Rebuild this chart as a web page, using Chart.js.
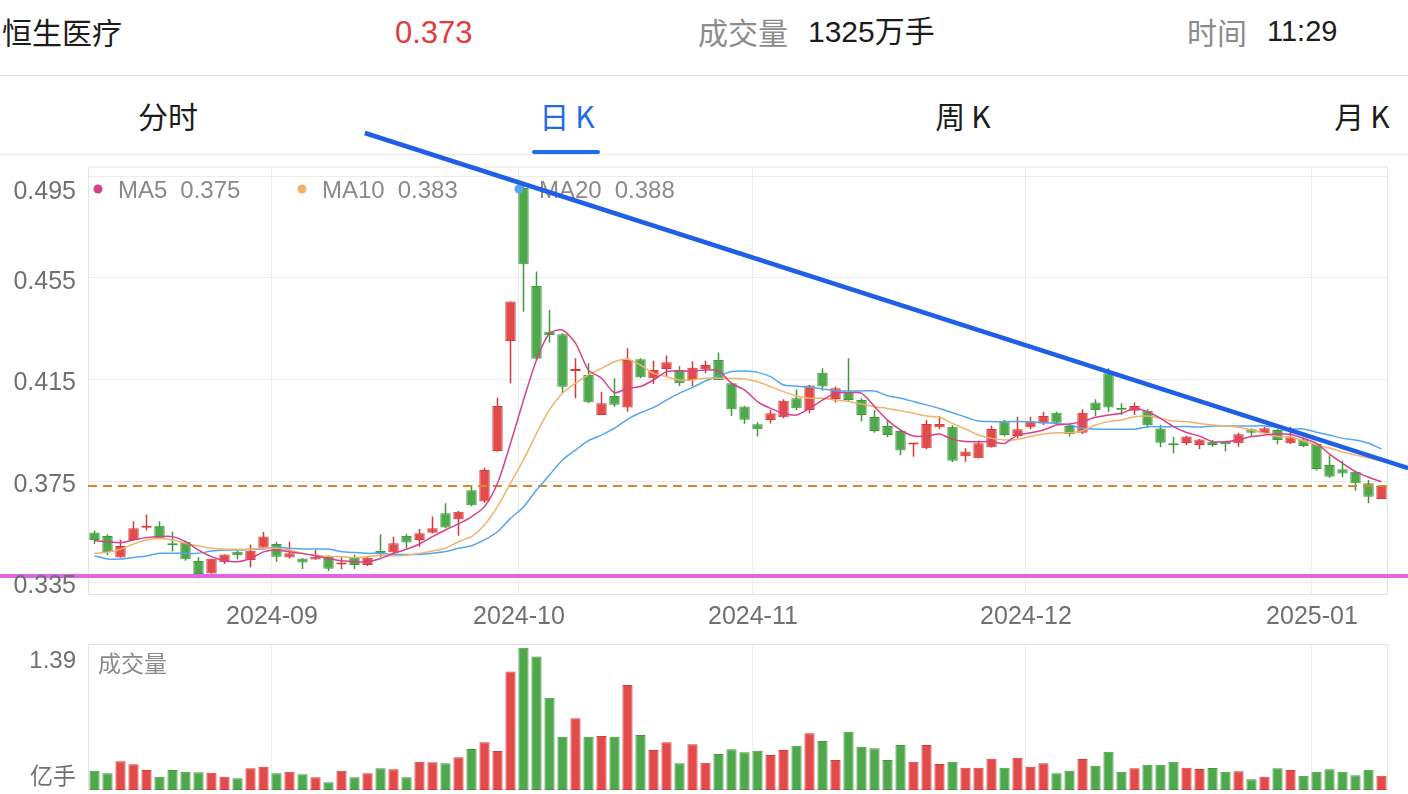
<!DOCTYPE html>
<html lang="zh-CN">
<head>
<meta charset="utf-8">
<title>恒生医疗 日K</title>
<script src="https://cdn.jsdelivr.net/npm/chart.js@4.4.1/dist/chart.umd.min.js"></script>
<style>
  html, body { margin: 0; padding: 0; background: #fff; }
  body { width: 1408px; height: 794px; overflow: hidden; position: relative;
         font-family: "Liberation Sans", "Noto Sans CJK SC", sans-serif; }
  .t { position: absolute; white-space: nowrap; line-height: 1; }
  .sep { position: absolute; left: 0; width: 1408px; height: 1px; background: #e8e8e8; }
  .tab { position: absolute; top: 100px; width: 140px; text-align: center; font-size: 30px;
         line-height: 1; color: #1c1c1c; font-family: "Noto Sans CJK SC", sans-serif; }
  .tab span { margin-right: 6px; }
  canvas { position: absolute; left: 0; pointer-events: none; }
  #price { top: 0; z-index: 2; }
  #vol { top: 600px; z-index: 1; }
</style>
</head>
<body>
<div class="t" style="left:2px;top:16px;font-size:30px;color:#1c1c1c;font-family:'Noto Sans CJK SC'">恒生医疗</div>
<div class="t" id="lastPrice" style="left:395px;top:17px;font-size:31px;color:#e23b3b"></div>
<div class="t" style="left:698px;top:16px;font-size:30px;color:#8c8c8c;font-family:'Noto Sans CJK SC'">成交量</div>
<div class="t" style="left:808px;top:17px;font-size:30px;color:#1c1c1c">1325万手</div>
<div class="t" style="left:1187px;top:16px;font-size:30px;color:#8c8c8c;font-family:'Noto Sans CJK SC'">时间</div>
<div class="t" style="left:1267px;top:17px;font-size:29px;color:#1c1c1c">11:29</div>
<div class="sep" style="top:75px"></div>

<div class="tab" style="left:98px">分时</div>
<div class="tab" style="left:497px;color:#1e6ce8"><span>日</span>K</div>
<div class="tab" style="left:893px"><span>周</span>K</div>
<div class="tab" style="left:1292px"><span>月</span>K</div>
<div style="position:absolute;left:532px;top:150px;width:68px;height:4px;background:#1e6ce8;border-radius:2px"></div>
<div class="sep" style="top:154px"></div>

<canvas id="price" width="1408" height="640"></canvas>
<canvas id="vol" width="1408" height="200"></canvas>

<script>
// daily candles, oldest first (last ~100 sessions)
const opens  = [0.3547,0.3533,0.3449,0.3518,0.3566,0.3574,0.3499,0.3511,0.3435,0.3386,
                0.3430,0.3471,0.3439,0.3487,0.3502,0.3449,0.3445,0.3441,0.3451,0.3421,
                0.3448,0.3419,0.3474,0.3469,0.3533,0.3518,0.3546,0.3623,0.3599,0.3714,
                0.3669,0.3868,0.4302,0.4904,0.4518,0.4338,0.4328,0.4183,0.4168,0.4010,
                0.4085,0.4040,0.4230,0.4155,0.4191,0.4187,0.4148,0.4190,0.4227,0.4135,
                0.4044,0.3974,0.3990,0.4001,0.4076,0.4030,0.4177,0.4073,0.4102,0.4069,
                0.4002,0.3967,0.3947,0.3894,0.3879,0.3962,0.3964,0.3848,0.3840,0.3883,
                0.3984,0.3927,0.3962,0.3977,0.4019,0.3967,0.3940,0.4059,0.4175,0.4033,
                0.4027,0.4027,0.3957,0.3893,0.3900,0.3892,0.3905,0.3905,0.3899,0.3954,
                0.3938,0.3951,0.3899,0.3914,0.3896,0.3813,0.3796,0.3787,0.3741,0.3679];
const highs  = [0.3555,0.3540,0.3520,0.3592,0.3618,0.3592,0.3550,0.3515,0.3450,0.3444,
                0.3461,0.3474,0.3500,0.3550,0.3511,0.3511,0.3446,0.3478,0.3458,0.3455,
                0.3461,0.3455,0.3540,0.3530,0.3540,0.3561,0.3610,0.3662,0.3632,0.3734,
                0.3802,0.4078,0.4457,0.4915,0.4575,0.4424,0.4332,0.4234,0.4214,0.4102,
                0.4155,0.4273,0.4234,0.4224,0.4244,0.4203,0.4222,0.4224,0.4256,0.4138,
                0.4046,0.3982,0.4030,0.4072,0.4111,0.4128,0.4194,0.4122,0.4234,0.4076,
                0.4030,0.3990,0.3951,0.3898,0.3990,0.4006,0.3970,0.3879,0.3910,0.3968,
                0.3990,0.4003,0.4003,0.4023,0.4023,0.3971,0.4033,0.4072,0.4194,0.4056,
                0.4059,0.4033,0.3971,0.3923,0.3928,0.3916,0.3912,0.3908,0.3940,0.3958,
                0.3964,0.3955,0.3964,0.3922,0.3900,0.3852,0.3830,0.3790,0.3754,0.3734];
const lows   = [0.3502,0.3458,0.3449,0.3518,0.3555,0.3522,0.3472,0.3436,0.3367,0.3386,
                0.3423,0.3441,0.3410,0.3487,0.3432,0.3445,0.3403,0.3441,0.3395,0.3402,
                0.3402,0.3415,0.3451,0.3465,0.3485,0.3491,0.3544,0.3564,0.3534,0.3651,
                0.3664,0.3865,0.4135,0.4417,0.4228,0.4295,0.4096,0.4076,0.4056,0.4010,
                0.4043,0.4023,0.4155,0.4132,0.4163,0.4124,0.4124,0.4175,0.4148,0.4006,
                0.3976,0.3925,0.3977,0.3997,0.4030,0.4017,0.4106,0.4059,0.4063,0.3984,
                0.3940,0.3922,0.3852,0.3846,0.3875,0.3954,0.3825,0.3826,0.3840,0.3882,
                0.3925,0.3918,0.3954,0.3971,0.3975,0.3925,0.3935,0.4006,0.4023,0.4010,
                0.4010,0.3960,0.3883,0.3859,0.3892,0.3875,0.3885,0.3866,0.3885,0.3927,
                0.3935,0.3895,0.3896,0.3883,0.3791,0.3763,0.3765,0.3712,0.3662,0.3679];
const closes = [0.3518,0.3469,0.3494,0.3564,0.3572,0.3524,0.3497,0.3442,0.3384,0.3444,
                0.3461,0.3458,0.3475,0.3531,0.3452,0.3465,0.3429,0.3452,0.3404,0.3425,
                0.3419,0.3448,0.3462,0.3505,0.3508,0.3544,0.3564,0.3567,0.3629,0.3655,
                0.3793,0.4046,0.4457,0.4604,0.4232,0.4325,0.4121,0.4187,0.4060,0.4056,
                0.4050,0.4227,0.4159,0.4187,0.4218,0.4135,0.4196,0.4207,0.4148,0.4033,
                0.3991,0.3954,0.4017,0.4066,0.4037,0.4126,0.4122,0.4115,0.4069,0.4010,
                0.3947,0.3931,0.3870,0.3896,0.3975,0.3975,0.3830,0.3866,0.3899,0.3955,
                0.3931,0.3954,0.3984,0.4006,0.3980,0.3935,0.4019,0.4030,0.4040,0.4031,
                0.4046,0.3970,0.3901,0.3891,0.3925,0.3914,0.3892,0.3895,0.3934,0.3940,
                0.3958,0.3912,0.3922,0.3888,0.3797,0.3767,0.3780,0.3741,0.3688,0.3730];

// volume, 亿手
const volumes = [0.184,0.159,0.273,0.245,0.190,0.127,0.190,0.174,0.169,0.165,
                 0.127,0.111,0.207,0.222,0.159,0.174,0.150,0.121,0.073,0.184,
                 0.121,0.159,0.207,0.197,0.121,0.270,0.264,0.254,0.311,0.390,
                 0.454,0.371,1.127,1.355,1.270,0.879,0.508,0.683,0.508,0.514,
                 0.508,1.000,0.524,0.381,0.454,0.254,0.435,0.260,0.343,0.388,
                 0.359,0.374,0.333,0.381,0.422,0.540,0.467,0.286,0.555,0.412,
                 0.397,0.286,0.429,0.270,0.429,0.248,0.270,0.212,0.212,0.298,
                 0.212,0.308,0.222,0.254,0.159,0.184,0.295,0.231,0.365,0.174,
                 0.207,0.241,0.241,0.270,0.212,0.200,0.210,0.174,0.178,0.102,
                 0.127,0.207,0.190,0.136,0.174,0.197,0.174,0.140,0.193,0.135];

// moving averages as drawn in the app
const ma5  = [0.3515,0.3511,0.3507,0.3518,0.3527,0.3531,0.3531,0.3511,0.3478,0.3452,
              0.3436,0.3432,0.3445,0.3471,0.3478,0.3471,0.3464,0.3456,0.3445,0.3436,
              0.3432,0.3432,0.3445,0.3465,0.3481,0.3502,0.3531,0.3557,0.3581,0.3609,
              0.3649,0.3741,0.3898,0.4069,0.4227,0.4332,0.4345,0.4293,0.4187,0.4155,
              0.4098,0.4115,0.4122,0.4148,0.4181,0.4183,0.4183,0.4187,0.4185,0.4135,
              0.4109,0.4063,0.4036,0.4017,0.4010,0.4036,0.4069,0.4096,0.4098,0.4096,
              0.4043,0.3990,0.3951,0.3927,0.3927,0.3935,0.3914,0.3906,0.3905,0.3905,
              0.3898,0.3931,0.3940,0.3951,0.3971,0.3975,0.3984,0.4001,0.4010,0.4017,
              0.4036,0.4023,0.3997,0.3964,0.3941,0.3927,0.3905,0.3905,0.3912,0.3925,
              0.3931,0.3935,0.3934,0.3918,0.3898,0.3856,0.3820,0.3787,0.3765,0.3747];
const ma10 = [0.3465,0.3469,0.3481,0.3502,0.3518,0.3524,0.3518,0.3505,0.3494,0.3485,
              0.3481,0.3481,0.3481,0.3485,0.3485,0.3478,0.3466,0.3458,0.3454,0.3452,
              0.3449,0.3452,0.3458,0.3456,0.3458,0.3465,0.3474,0.3485,0.3511,0.3531,
              0.3577,0.3649,0.3741,0.3833,0.3938,0.4030,0.4096,0.4135,0.4168,0.4194,
              0.4220,0.4230,0.4207,0.4174,0.4161,0.4148,0.4148,0.4155,0.4155,0.4155,
              0.4152,0.4141,0.4122,0.4102,0.4085,0.4076,0.4076,0.4069,0.4063,0.4053,
              0.4043,0.4036,0.4027,0.4017,0.4006,0.4001,0.3977,0.3955,0.3931,0.3918,
              0.3912,0.3914,0.3925,0.3935,0.3940,0.3940,0.3948,0.3971,0.3984,0.3990,
              0.4003,0.4006,0.3997,0.3986,0.3984,0.3977,0.3971,0.3967,0.3962,0.3951,
              0.3938,0.3925,0.3924,0.3908,0.3892,0.3880,0.3864,0.3852,0.3841,0.3829];
const ma20 = [0.3455,0.3443,0.3443,0.3449,0.3455,0.3465,0.3465,0.3465,0.3465,0.3474,
              0.3478,0.3478,0.3481,0.3482,0.3489,0.3485,0.3482,0.3482,0.3482,0.3472,
              0.3468,0.3465,0.3465,0.3461,0.3461,0.3461,0.3465,0.3472,0.3485,0.3495,
              0.3518,0.3550,0.3603,0.3648,0.3715,0.3774,0.3833,0.3872,0.3909,0.3931,
              0.3958,0.3993,0.4019,0.4040,0.4069,0.4096,0.4119,0.4144,0.4164,0.4181,
              0.4183,0.4178,0.4161,0.4128,0.4124,0.4119,0.4113,0.4106,0.4105,0.4105,
              0.4105,0.4086,0.4076,0.4063,0.4050,0.4036,0.4019,0.4002,0.3986,0.3984,
              0.3984,0.3984,0.3983,0.3980,0.3977,0.3971,0.3958,0.3955,0.3954,0.3954,
              0.3954,0.3964,0.3964,0.3964,0.3965,0.3963,0.3967,0.3967,0.3967,0.3967,
              0.3967,0.3962,0.3955,0.3955,0.3942,0.3931,0.3918,0.3912,0.3899,0.3876];

const monthStarts = [14, 33, 51, 72, 94];
const monthLabels = ['2024-09', '2024-10', '2024-11', '2024-12', '2025-01'];
const priceTicks  = [0.335, 0.375, 0.415, 0.455, 0.495];
const priceMin = 0.3301, priceMax = 0.4989;
const volMax = 1.39;
const currentPrice = 0.373;

// user-drawn lines: [candle index, price]
const trendX = [20.8, 101.05];
const trendY = [0.5121, 0.3801];
const supportX = [-7.3, 101.1];
const supportY = [0.3376, 0.3376];

const UP = '#e34a4a', UP_EDGE = '#d43a3a';
const DOWN = '#4fa84c', DOWN_EDGE = '#3e9a3b';
const GRID = '#ececec', FRAME = '#e4e4e4';
const FONT = '"Liberation Sans", "Noto Sans CJK SC", sans-serif';
const gridShift = 0.35;

const idx = closes.map((_, i) => i);
const isUp = i => closes[i] >= opens[i];
const pts = arr => arr.map((v, i) => ({x: i, y: v}));
const monthTicks = () => monthStarts.map(i => ({value: i - gridShift}));

document.getElementById('lastPrice').textContent = currentPrice.toFixed(3);

const frame = {
  id: 'frame',
  beforeDatasetsDraw(chart) {
    const {ctx, chartArea: a} = chart;
    ctx.save();
    ctx.strokeStyle = FRAME;
    ctx.lineWidth = 1;
    ctx.strokeRect(a.left + 0.5, a.top + 0.5, a.width - 1, a.height - 1);
    ctx.restore();
  }
};

const priceText = {
  id: 'priceText',
  afterDatasetDraw(chart, args) {
    if (args.meta.order !== 3) return;
    const {ctx, chartArea: a} = chart;
    ctx.save();
    ctx.font = '24px ' + FONT;
    ctx.textBaseline = 'middle';
    const items = [
      {name: 'MA5', val: ma5[ma5.length - 1], color: '#d8408e', x: 98},
      {name: 'MA10', val: ma10[ma10.length - 1], color: '#f1b36c', x: 302},
      {name: 'MA20', val: ma20[ma20.length - 1], color: '#55a6ee', x: 519},
    ];
    const ly = a.top + 22.5;
    items.forEach(it => {
      ctx.fillStyle = it.color;
      ctx.beginPath();
      ctx.arc(it.x, ly, 4.5, 0, Math.PI * 2);
      ctx.fill();
      ctx.fillStyle = '#8a8a8a';
      ctx.textAlign = 'left';
      ctx.fillText(it.name, it.x + 20, ly + 2);
      const w = ctx.measureText(it.name).width;
      ctx.fillText(it.val.toFixed(3), it.x + 20 + w + 13, ly + 2);
    });
    ctx.restore();
  },
  afterDraw(chart) {
    const {ctx, chartArea: a, scales: {y}} = chart;
    ctx.save();
    ctx.font = '25px ' + FONT;
    ctx.fillStyle = '#707070';
    ctx.textAlign = 'right';
    ctx.textBaseline = 'middle';
    priceTicks.forEach(v => {
      const py = Math.max(y.getPixelForValue(v) + 4, a.top + 26);
      ctx.fillText(v.toFixed(3), 76, py);
    });
    ctx.restore();
  }
};

const volText = {
  id: 'volText',
  afterDraw(chart) {
    const {ctx, chartArea: a} = chart;
    ctx.save();
    ctx.font = '24px ' + FONT;
    ctx.fillStyle = '#707070';
    ctx.textAlign = 'right';
    ctx.textBaseline = 'middle';
    ctx.fillText(volMax.toFixed(2), 76, a.top + 17);
    ctx.font = '23px "Noto Sans CJK SC", sans-serif';
    ctx.fillText('亿手', 76, a.top + 131);
    ctx.textAlign = 'left';
    ctx.fillStyle = '#8a8a8a';
    ctx.fillText('成交量', a.left + 10, a.top + 19);
    ctx.restore();
  }
};

const xScale = (showLabels) => ({
  type: 'linear', min: -0.5, max: 99.5, offset: false,
  afterBuildTicks: s => { s.ticks = monthTicks(); },
  afterFit: s => { s.height = showLabels ? 45 : 0; },
  grid: {color: GRID, drawTicks: false, offset: false},
  border: {display: false},
  ticks: {
    display: showLabels, autoSkip: false, maxRotation: 0, padding: 7,
    color: '#707070', font: {size: 25, family: FONT},
    callback: (v, i) => monthLabels[i]
  }
});

new Chart(document.getElementById('price'), {
  type: 'bar',
  data: {
    datasets: [
      {type: 'line', data: trendX.map((x, i) => ({x, y: trendY[i]})), borderColor: '#1f5fe6',
       borderWidth: 4.5, pointRadius: 0, clip: false, order: 0},
      {type: 'line', data: supportX.map((x, i) => ({x, y: supportY[i]})), borderColor: '#e163e6',
       borderWidth: 4, pointRadius: 0, clip: false, order: 0},
      {type: 'line', data: pts(ma5), borderColor: '#d8408e', borderWidth: 1.5, pointRadius: 0, tension: 0.25, order: 1},
      {type: 'line', data: pts(ma10), borderColor: '#f1b36c', borderWidth: 1.5, pointRadius: 0, tension: 0.25, order: 1},
      {type: 'line', data: pts(ma20), borderColor: '#55a6ee', borderWidth: 1.5, pointRadius: 0, tension: 0.25, order: 1},
      {type: 'line', data: [{x: -0.5, y: currentPrice}, {x: 99.5, y: currentPrice}], borderColor: '#d9862f',
       borderWidth: 2, borderDash: [9, 6], pointRadius: 0, order: 2},
      {data: idx.map(i => ({x: i, y: [opens[i], closes[i]]})), grouped: false,
       backgroundColor: idx.map(i => isUp(i) ? UP : DOWN),
       borderColor: idx.map(i => isUp(i) ? UP_EDGE : DOWN_EDGE),
       borderWidth: 1, borderSkipped: false, minBarLength: 2,
       barPercentage: 0.8, categoryPercentage: 1, order: 3},
      {data: idx.map(i => ({x: i, y: [lows[i], highs[i]]})), grouped: false,
       backgroundColor: idx.map(i => isUp(i) ? UP_EDGE : DOWN_EDGE),
       borderWidth: 0, maxBarThickness: 1.5,
       barPercentage: 0.8, categoryPercentage: 1, order: 4},
    ]
  },
  options: {
    responsive: false, animation: false, events: [],
    layout: {padding: {top: 166.5, right: 20, bottom: 0, left: 0}},
    plugins: {legend: {display: false}, tooltip: {enabled: false}},
    scales: {
      x: xScale(true),
      y: {
        min: priceMin, max: priceMax, beginAtZero: false,
        afterBuildTicks: s => { s.ticks = priceTicks.map(v => ({value: v})); },
        afterFit: s => { s.width = 88; },
        grid: {color: GRID, drawTicks: false},
        border: {display: false},
        ticks: {display: false}
      }
    }
  },
  plugins: [frame, priceText]
});

new Chart(document.getElementById('vol'), {
  type: 'bar',
  data: {
    datasets: [{
      data: idx.map(i => ({x: i, y: volumes[i]})),
      backgroundColor: idx.map(i => isUp(i) ? UP : DOWN),
      borderColor: idx.map(i => isUp(i) ? UP_EDGE : DOWN_EDGE),
      borderWidth: 1, borderSkipped: false,
      barPercentage: 0.78, categoryPercentage: 1
    }]
  },
  options: {
    responsive: false, animation: false, events: [],
    layout: {padding: {top: 44, right: 20, bottom: 10, left: 0}},
    plugins: {legend: {display: false}, tooltip: {enabled: false}},
    scales: {
      x: xScale(false),
      y: {
        min: 0, max: volMax,
        afterFit: s => { s.width = 88; },
        grid: {display: false},
        border: {display: false},
        ticks: {display: false}
      }
    }
  },
  plugins: [frame, volText]
});
</script>
</body>
</html>
